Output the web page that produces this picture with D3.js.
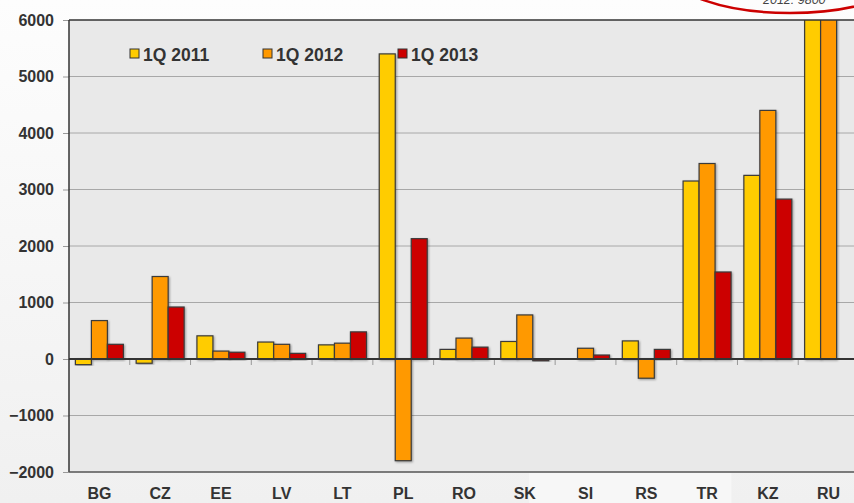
<!DOCTYPE html>
<html>
<head>
<meta charset="utf-8">
<script src="https://cdn.jsdelivr.net/npm/d3@7"></script>
<style>
  html, body { margin: 0; padding: 0; }
  body { width: 854px; height: 503px; overflow: hidden; }
  text { font-family: "Liberation Sans", Arial, sans-serif; }
</style>
</head>
<body>
<div id="chart"></div>
<script>
const categories = ["BG", "CZ", "EE", "LV", "LT", "PL", "RO", "SK", "SI", "RS", "TR", "KZ", "RU"]
const seriesNames = ["1Q 2011", "1Q 2012", "1Q 2013"]
const q2011 = [-100, -75, 410, 300, 250, 5400, 170, 310, 10, 320, 3150, 3250, 8500]
const q2012 = [680, 1460, 140, 260, 280, -1800, 370, 780, 190, -340, 3460, 4400, 9800]
const q2013 = [260, 920, 120, 100, 480, 2130, 210, -30, 70, 170, 1540, 2830, null]
const yTicks = [-2000, -1000, 0, 1000, 2000, 3000, 4000, 5000, 6000]
const colors = ["#FFCC00", "#FF9900", "#CC0000"]
const note = "2012: 9800"

const width = 854, height = 503
const plot = { left: 69, top: 20, right: 859, bottom: 472 }

const svg = d3.select("#chart").append("svg")
  .attr("width", width)
  .attr("height", height)

const defs = svg.append("defs")
const bg = defs.append("linearGradient").attr("id", "bg")
  .attr("x1", 0).attr("y1", 0).attr("x2", 0).attr("y2", 1)
bg.append("stop").attr("offset", "0%").attr("stop-color", "#fdfdfd")
bg.append("stop").attr("offset", "100%").attr("stop-color", "#f0f0f0")

defs.append("clipPath").attr("id", "clip")
  .append("rect")
  .attr("x", plot.left).attr("y", plot.top)
  .attr("width", plot.right - plot.left).attr("height", plot.bottom - plot.top)

const shadow = defs.append("filter").attr("id", "shadow")
  .attr("x", "-20%").attr("y", "-20%").attr("width", "140%").attr("height", "140%")
shadow.append("feDropShadow")
  .attr("dx", 1).attr("dy", 1).attr("stdDeviation", 1.2)
  .attr("flood-color", "#000").attr("flood-opacity", 0.35)

svg.append("rect").attr("width", width).attr("height", height).attr("fill", "url(#bg)")

const x = d3.scaleBand().domain(categories).range([plot.left, plot.right])
const x1 = d3.scaleBand().domain(seriesNames).range([0, x.bandwidth()]).paddingOuter(0.4)
const y = d3.scaleLinear().domain([-2000, 6000]).range([plot.bottom, plot.top])

// lighter patch under a few labels
svg.append("rect")
  .attr("x", x("SI") - 26).attr("y", plot.bottom + 1)
  .attr("width", x("TR") + x.bandwidth() * 0.9 - x("SI") + 26)
  .attr("height", height - plot.bottom)
  .attr("fill", "#f7f7f7")

svg.append("rect")
  .attr("x", plot.left).attr("y", plot.top)
  .attr("width", plot.right - plot.left).attr("height", plot.bottom - plot.top)
  .attr("fill", "#e9e9e9")

// gridlines
svg.append("g")
  .selectAll("line")
  .data(yTicks.filter(d => d !== 0 && d !== -2000 && d !== 6000))
  .join("line")
  .attr("x1", plot.left).attr("x2", plot.right)
  .attr("y1", d => y(d)).attr("y2", d => y(d))
  .attr("stroke", "#a8a8a8").attr("stroke-width", 1)

// y axis
const yAxis = svg.append("g")
  .attr("transform", `translate(${plot.left},0)`)
  .call(d3.axisLeft(y).tickValues(yTicks).tickSize(6).tickPadding(9).tickFormat(d3.format("d")))
yAxis.select(".domain").remove()
yAxis.selectAll(".tick line").attr("stroke", "#999")
yAxis.selectAll(".tick text")
  .attr("font-size", 16).attr("font-weight", "bold").attr("fill", "#333")

// bars
const rows = categories.map((c, i) => ({ c, vals: [q2011[i], q2012[i], q2013[i]] }))
const barsG = svg.append("g").attr("clip-path", "url(#clip)")
const groups = barsG.selectAll("g.grp")
  .data(rows)
  .join("g")
  .attr("class", "grp")
  .attr("transform", d => `translate(${x(d.c)},0)`)

groups.selectAll("rect")
  .data(d => d.vals.map((v, k) => ({ v, k })).filter(e => e.v !== null))
  .join("rect")
  .attr("x", e => x1(seriesNames[e.k]))
  .attr("width", x1.bandwidth())
  .attr("y", e => y(Math.max(0, e.v)))
  .attr("height", e => Math.max(1, Math.abs(y(e.v) - y(0))))
  .attr("fill", e => colors[e.k])
  .attr("stroke", "#3a3a3a")
  .attr("stroke-width", 1.2)
  .attr("filter", "url(#shadow)")

// zero line and category ticks
svg.append("line")
  .attr("x1", plot.left).attr("x2", width)
  .attr("y1", y(0)).attr("y2", y(0))
  .attr("stroke", "#333").attr("stroke-width", 2)

svg.append("g")
  .selectAll("line")
  .data(categories.slice(1))
  .join("line")
  .attr("x1", d => x(d)).attr("x2", d => x(d))
  .attr("y1", y(0) + 1).attr("y2", y(0) + 6)
  .attr("stroke", "#999").attr("stroke-width", 1)

// frame
svg.append("line").attr("x1", plot.left).attr("x2", plot.left)
  .attr("y1", plot.top).attr("y2", plot.bottom)
  .attr("stroke", "#333").attr("stroke-width", 1.5)
svg.append("line").attr("x1", plot.left).attr("x2", width)
  .attr("y1", plot.top).attr("y2", plot.top)
  .attr("stroke", "#333").attr("stroke-width", 1.5)
svg.append("line").attr("x1", plot.left).attr("x2", width)
  .attr("y1", plot.bottom).attr("y2", plot.bottom)
  .attr("stroke", "#555").attr("stroke-width", 1.5)

// x labels
svg.append("g")
  .selectAll("text")
  .data(categories)
  .join("text")
  .attr("x", d => x(d) + x.bandwidth() / 2)
  .attr("y", 499)
  .attr("text-anchor", "middle")
  .attr("font-size", 16).attr("font-weight", "bold").attr("fill", "#333")
  .text(d => d)

// legend
const legendX = [130, 263, 398]
const legend = svg.append("g")
  .selectAll("g")
  .data(seriesNames)
  .join("g")
  .attr("transform", (d, i) => `translate(${legendX[i]},49)`)
legend.append("rect")
  .attr("width", 9).attr("height", 9)
  .attr("fill", (d, i) => colors[i])
  .attr("stroke", "#333").attr("stroke-width", 1)
legend.append("text")
  .attr("x", 13).attr("y", 11.5)
  .attr("font-size", 17.5).attr("font-weight", "bold").attr("fill", "#333")
  .text(d => d)

// annotation
svg.append("ellipse")
  .attr("cx", 790).attr("cy", -30).attr("rx", 121).attr("ry", 43)
  .attr("fill", "none").attr("stroke", "#CC0000").attr("stroke-width", 2.5)
svg.append("text")
  .attr("x", 763).attr("y", 4)
  .attr("font-size", 12.5).attr("font-style", "italic").attr("fill", "#444")
  .text(note)
</script>
</body>
</html>
